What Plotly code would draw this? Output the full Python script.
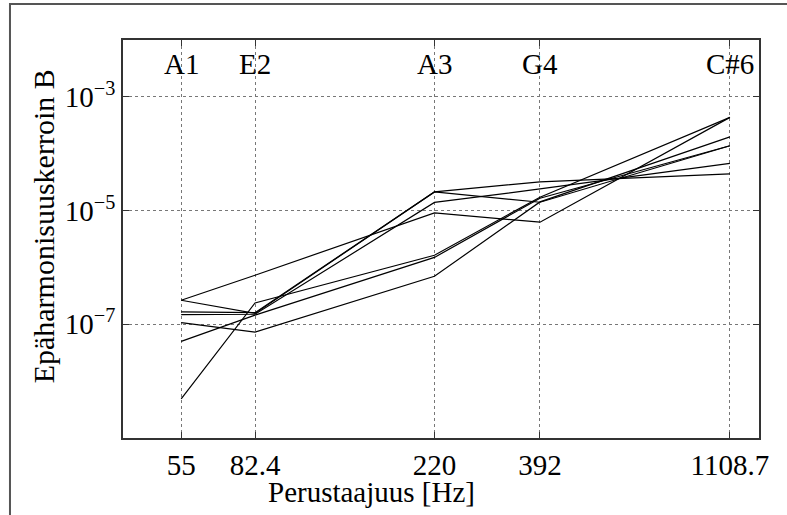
import numpy as np
import plotly.graph_objects as go

freqs = [55, 82.4, 220, 392, 1108.7]
freq_labels = ["55", "82.4", "220", "392", "1108.7"]
notes = ["A1", "E2", "A3", "G4", "C#6"]

s1 = [2.65e-7, 7.3e-7, 9.1e-6, 6.25e-6, 4.36e-4]
s2 = [2.65e-7, 1.55e-7, 2.13e-5, 3.2e-5, 4.43e-5]
s3 = [1.65e-7, 1.6e-7, 2.13e-5, 1.4e-5, 1.38e-4]
s4 = [1.48e-7, 1.5e-7, 1.39e-5, 2.4e-5, 6.75e-5]
s5 = [1.07e-7, 7.3e-8, 7.0e-7, 1.42e-5, 1.98e-4]
s6 = [5.0e-8, 1.45e-7, 1.5e-6, 1.65e-5, 1.38e-4]
s7 = [4.9e-9, 2.37e-7, 1.64e-6, 1.72e-5, 4.36e-4]
series = [s1, s2, s3, s4, s5, s6, s7]

ytick_vals = [1e-7, 1e-5, 1e-3]
ytick_text = ["10<sup>−7</sup>", "10<sup>−5</sup>", "10<sup>−3</sup>"]

x_title = "Perustaajuus [Hz]"
y_title = "Epäharmonisuuskerroin B"

FONT = "Liberation Serif"

fig = go.Figure()
for s in series:
    fig.add_trace(go.Scatter(x=freqs, y=s, mode="lines",
                             line=dict(color="black", width=1.2),
                             showlegend=False, hoverinfo="skip"))

for f, n in zip(freqs, notes):
    fig.add_annotation(x=np.log10(f), y=1, xref="x", yref="paper",
                       text=n, showarrow=False, yanchor="top", yshift=-6,
                       font=dict(family=FONT, size=29, color="black"))

# axis titles as annotations (positioned as in the reference)
fig.add_annotation(x=0.39, y=-0.1365, xref="paper", yref="paper",
                   text=x_title, showarrow=False, xanchor="center", yanchor="middle",
                   font=dict(family=FONT, size=29, color="black"))
fig.add_annotation(x=-0.125, y=0.93, xref="paper", yref="paper",
                   text=y_title, showarrow=False, textangle=-90,
                   xanchor="center", yanchor="top",
                   font=dict(family=FONT, size=30, color="black"))

axis_common = dict(showline=True, linecolor="#333", linewidth=1.5, mirror="allticks",
                   ticks="inside", ticklen=6, tickcolor="#333",
                   showgrid=True, gridcolor="#777", griddash="dot", gridwidth=1,
                   zeroline=False,
                   tickfont=dict(family=FONT, size=29, color="black"))

fig.update_xaxes(type="log", range=[np.log10(40), np.log10(1300)],
                 tickvals=freqs, ticktext=freq_labels, **axis_common)
fig.update_yaxes(type="log", range=[-9, -2],
                 tickvals=ytick_vals, ticktext=ytick_text, **axis_common)

# outer frame
fig.add_shape(type="rect", xref="paper", yref="paper",
              x0=-0.1777, x1=1.3, y0=-0.4, y1=1.0905,
              line=dict(color="#555", width=2), layer="below")

fig.update_layout(width=787, height=515,
                  margin=dict(l=123, r=28, t=40, b=77),
                  paper_bgcolor="white", plot_bgcolor="white")

fig.write_html("out.html")
